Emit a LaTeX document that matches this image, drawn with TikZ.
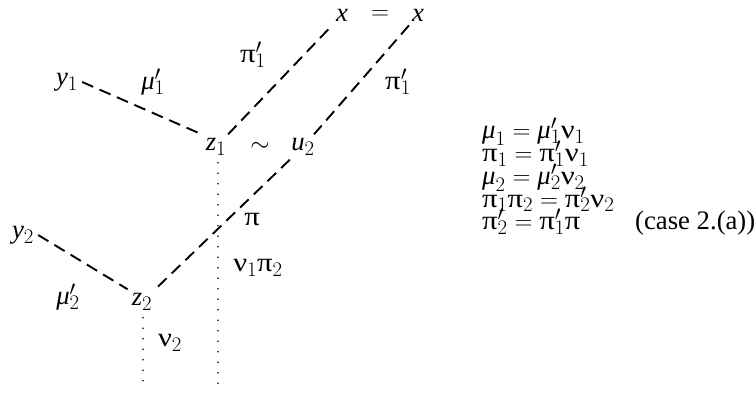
\documentclass[tikz,border=0pt]{standalone}
\usepackage{mathtools}
\usepackage{fontspec}
\setmainfont{Liberation Serif}
\DeclareMathSizes{26.7}{26.7}{20}{15}
\newcommand\gpi{\mbox{\scalebox{1.15}[1]{π}}}
\newcommand\gnu{\mbox{\scalebox{1.15}[1]{ν}}}
\newcommand\gmu{\mbox{\itshape μ}}
\newcommand\ps[2]{#1\mathrlap{^{\prime}}_{#2}}
\begin{document}
\begin{tikzpicture}[x=1pt,y=1pt,
  every node/.style={font=\fontsize{26.7}{22.7}\selectfont},
  pt/.style={inner sep=4pt},
  lbl/.style={inner sep=0pt},
  eq/.style={inner sep=0pt, anchor=base west},
  dsh/.style={dash pattern=on 12pt off 7pt, line width=1.9pt},
  dts/.style={line width=1.6pt, dash pattern=on 0pt off 10.5pt, line cap=round}]
\useasboundingbox (0,0) rectangle (754,396);
% points
\node[pt] (x1) at (342,381) {$\mathit{x}$};
\node[lbl] (eqx) at (380,381) {$=$};
\node[pt] (x2) at (418,381) {$\mathit{x}$};
\node[pt] (y1) at (67,314) {$\mathit{y}_1$};
\node[pt] (z1) at (216,249) {$\mathit{z}_1$};
\node[pt] (u2) at (303,249) {$\mathit{u}_2$};
\node[pt] (y2) at (23,161) {$\mathit{y}_2$};
\node[pt] (z2) at (142,94) {$\mathit{z}_2$};
\coordinate (b1) at (218,11);
\coordinate (b2) at (143,11);
% connectors
\draw[dsh] (y1.east) -- (z1.north west);
\draw[dsh] (z1) -- (x1);
\draw[dsh] (x2) -- (u2);
\draw[dsh] (u2) -- (z2);
\draw[dsh] (y2.east) -- (z2.north west);
\draw[dts] (z1.south -| b1) ++(0,-3) -- (b1);
\draw[dts] (z2.south -| b2) ++(0,-3) -- (b2);
% labels
\node[lbl] (l1) at (253,341) {$\ps{\gpi}{1}$};
\node[lbl] (l2) at (153,314) {$\ps{\gmu}{1}$};
\node[lbl] (l3) at (398,314) {$\ps{\gpi}{1}$};
\node[lbl] (l4) at (260,249) {$\sim$};
\node[lbl] (l5) at (252,176) {$\gpi$};
\node[lbl] (l6) at (258,128) {$\gnu_1\gpi_2$};
\node[lbl] (l7) at (68,99) {$\ps{\gmu}{2}$};
\node[lbl] (l8) at (170,53) {$\gnu_2$};
% equations
\node[eq] (e1) at (482,257) {$\gmu_1 = \ps{\gmu}{1}\gnu_1$};
\node[eq] (e2) at (482,234.3) {$\gpi_1 = \ps{\gpi}{1}\gnu_1$};
\node[eq] (e3) at (482,211.6) {$\gmu_2 = \ps{\gmu}{2}\gnu_2$};
\node[eq] (e4) at (482,188.9) {$\gpi_1\gpi_2 = \ps{\gpi}{2}\gnu_2$};
\node[eq] (e5) at (482,166.2) {$\ps{\gpi}{2} = \ps{\gpi}{1}\gpi$};
\node[eq] (c) at (635,166.2) {(case 2.(a))};
\end{tikzpicture}
\end{document}
